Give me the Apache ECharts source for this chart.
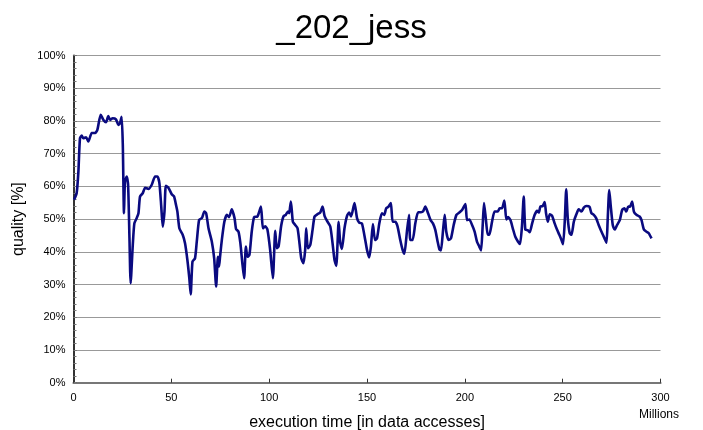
<!DOCTYPE html>
<html><head><meta charset="utf-8">
<script src="https://cdn.jsdelivr.net/npm/echarts@6/dist/echarts.min.js"></script>
<style>html,body{margin:0;padding:0;background:#fff}#c{width:703px;height:430px}</style>
</head><body><div id="c"></div>
<script>
const title = "_202_jess";
const xTime = [0.25,1.6,2.5,3.3,4.2,5.0,6.4,7.6,9.3,11.0,12.2,13.9,15.3,16.6,17.8,18.7,20.0,21.7,22.9,23.8,24.6,25.2,25.8,26.3,27.2,27.9,28.6,29.2,30.3,31.1,32.3,33.2,34.0,35.4,36.6,38.3,40.0,41.7,42.9,43.9,44.8,45.6,46.5,47.2,48.5,50.2,51.4,52.4,53.1,54.1,55.8,57.0,58.2,59.2,59.9,60.8,62.1,63.0,64.2,65.6,66.9,67.8,69.0,70.7,71.9,72.9,73.8,74.4,74.9,75.8,77.1,78.4,79.5,80.9,82.3,83.1,84.3,85.3,86.3,87.2,88.1,88.9,89.9,91.1,92.3,94.0,95.8,96.8,98.0,99.1,100.5,101.9,103.1,103.9,104.8,106.1,107.3,108.5,109.6,110.2,111.1,112.1,113.3,114.5,115.5,116.4,117.5,118.4,118.9,119.8,121.0,122.2,123.2,124.7,126.1,127.3,128.3,129.5,131.2,132.4,133.4,134.3,135.5,136.3,137.2,138.5,139.8,140.9,141.9,143.6,144.9,146.0,147.4,149.1,150.0,151.1,152.0,153.0,154.1,155.1,156.3,157.6,158.8,159.8,161.0,162.2,163.1,164.5,165.6,167.0,168.2,169.1,170.4,171.5,172.1,173.3,174.7,176.1,177.6,178.6,179.8,181.2,182.5,183.7,184.9,186.1,187.0,187.8,188.8,189.7,190.5,191.7,192.9,194.3,195.7,197.2,198.6,200.3,201.1,202.3,203.7,205.0,206.2,207.4,208.3,209.1,209.8,210.8,211.7,212.5,213.9,215.2,216.8,217.8,219.0,220.2,221.2,222.1,223.3,224.5,225.8,227.2,228.2,229.2,230.1,230.9,232.1,233.2,234.4,235.7,236.9,237.8,238.6,239.8,240.8,241.5,242.4,243.4,244.6,245.9,247.1,248.3,249.4,250.2,251.1,251.8,252.6,253.6,254.5,255.7,256.9,258.2,259.6,260.8,262.1,263.7,264.7,265.9,267.1,268.4,269.8,271.4,272.4,273.0,273.8,274.6,275.6,276.6,277.8,279.2,280.4,281.6,282.5,283.5,284.4,285.5,286.4,287.7,289.3,290.3,291.5,292.7,294.0,295.4];
const quality = [55.9,57.9,64.5,74.7,75.5,74.7,75.0,73.7,76.3,76.3,77.3,81.9,80.3,79.6,81.5,80.3,80.8,80.5,78.8,79.4,81.3,72.7,51.8,61.5,63.0,60.5,44.2,30.4,42.1,48.7,50.3,51.8,56.9,57.9,59.6,59.2,60.5,63.0,63.0,61.0,54.3,47.7,52.3,60.2,59.6,57.6,56.9,54.3,52.3,47.2,45.2,42.6,37.5,31.9,27.0,37.0,38.0,43.1,49.8,50.3,52.3,51.8,47.2,43.1,38.0,29.4,38.5,35.5,38.5,43.6,49.2,51.3,50.6,53.0,50.3,46.9,46.2,42.6,36.5,31.9,41.6,38.5,39.0,46.2,50.6,50.8,53.8,47.2,47.8,46.8,40.6,31.9,46.4,41.1,41.6,47.8,50.8,51.3,52.3,51.8,55.4,49.2,48.2,47.2,42.6,38.0,36.5,40.6,47.2,41.1,42.1,46.8,50.8,51.5,52.0,53.8,51.0,49.5,47.8,42.6,37.5,35.7,49.2,42.9,40.9,47.2,51.0,52.0,50.8,54.9,50.3,48.9,48.7,43.6,40.6,38.3,41.6,48.5,43.6,44.1,48.7,51.8,51.3,53.3,53.8,54.9,49.2,49.2,47.8,43.6,40.6,39.4,46.2,51.3,43.6,43.6,48.7,52.1,52.1,52.3,53.8,51.8,49.7,48.7,46.7,43.1,40.8,40.4,46.2,51.3,46.2,43.6,44.1,48.2,51.3,52.0,52.8,54.6,49.7,49.9,48.2,46.2,43.1,41.6,40.4,47.8,54.9,49.7,45.2,45.2,49.2,52.3,52.3,53.3,53.3,55.7,49.9,50.6,49.7,47.2,44.6,43.1,42.4,47.8,56.9,46.8,46.6,46.0,48.7,51.3,52.5,52.0,53.8,54.0,55.2,51.8,49.2,51.5,51.0,48.7,46.8,45.2,43.6,42.3,49.7,59.1,50.3,45.7,45.2,49.2,51.3,53.0,52.3,53.5,54.0,53.8,51.8,51.3,50.3,48.2,46.2,44.1,42.8,49.7,58.9,53.8,48.2,46.8,48.2,49.7,52.8,53.3,52.3,53.8,53.8,55.4,52.3,51.3,50.8,49.7,46.8,46.2,45.7,44.1];
const xTicks = [0,50,100,150,200,250,300];
const yTicks = [0,10,20,30,40,50,60,70,80,90,100];

const data = xTime.map((x,i)=>[x,quality[i]]);
const font = "Liberation Sans, Arial, sans-serif";
const chart = echarts.init(document.getElementById('c'), null, {renderer:'canvas'});
chart.setOption({
  animation:false,
  backgroundColor:'#fff',
  title:{text:title,left:'center',top:7,textStyle:{fontFamily:font,fontSize:33,fontWeight:'normal',color:'#000'}},
  grid:{left:73.5,right:42.5,top:55.5,bottom:47.3,containLabel:false,outerBoundsMode:'none'},
  xAxis:[{
    type:'value',min:xTicks[0],max:xTicks[xTicks.length-1],interval:50,position:'bottom',
    axisLine:{show:true,lineStyle:{color:'#333',width:1.5}},
    axisTick:{show:true,inside:true,length:4,lineStyle:{color:'#333'}},
    axisLabel:{fontFamily:font,fontSize:11,color:'#000',margin:10},
    splitLine:{show:false},
    name:'execution time [in data accesses]',nameLocation:'middle',nameGap:32,
    nameTextStyle:{fontFamily:font,fontSize:16,color:'#000'}
  },{
    type:'value',min:0,max:300,position:'top',
    axisLine:{show:true,lineStyle:{color:'#777',width:2}},
    axisTick:{show:false},axisLabel:{show:false},splitLine:{show:false}
  }],
  yAxis:[{
    type:'value',min:yTicks[0],max:yTicks[yTicks.length-1],interval:10,
    axisLine:{show:true,lineStyle:{color:'#000',width:1}},
    axisTick:{show:true,inside:true,length:3,lineStyle:{color:'#555'}},
    axisLabel:{fontFamily:font,fontSize:11,color:'#000',formatter:'{value}%',margin:8},
    splitLine:{show:true,lineStyle:{color:'#999',width:1}},
    name:'quality [%]',nameLocation:'middle',nameGap:44,
    nameTextStyle:{fontFamily:font,fontSize:16,color:'#000'}
  },{
    type:'value',min:0,max:100,position:'right',
    axisLine:{show:true,lineStyle:{color:'#333',width:2}},
    axisTick:{show:false},axisLabel:{show:false},splitLine:{show:false}
  },{
    type:'value',min:0,max:100,interval:2,position:'left',
    axisLine:{show:false},
    axisTick:{show:true,inside:true,length:3,lineStyle:{color:'#777'}},
    axisLabel:{show:false},splitLine:{show:false}
  }],
  graphic:[{type:'text',left:639,top:409,style:{text:'Millions',fontFamily:font,fontSize:12,fill:'#000'}}],
  series:[{
    type:'line',data:data,showSymbol:false,smooth:0.2,
    lineStyle:{color:'#0a0a80',width:2.6},
    xAxisIndex:0,yAxisIndex:0
  }]
});
</script></body></html>
